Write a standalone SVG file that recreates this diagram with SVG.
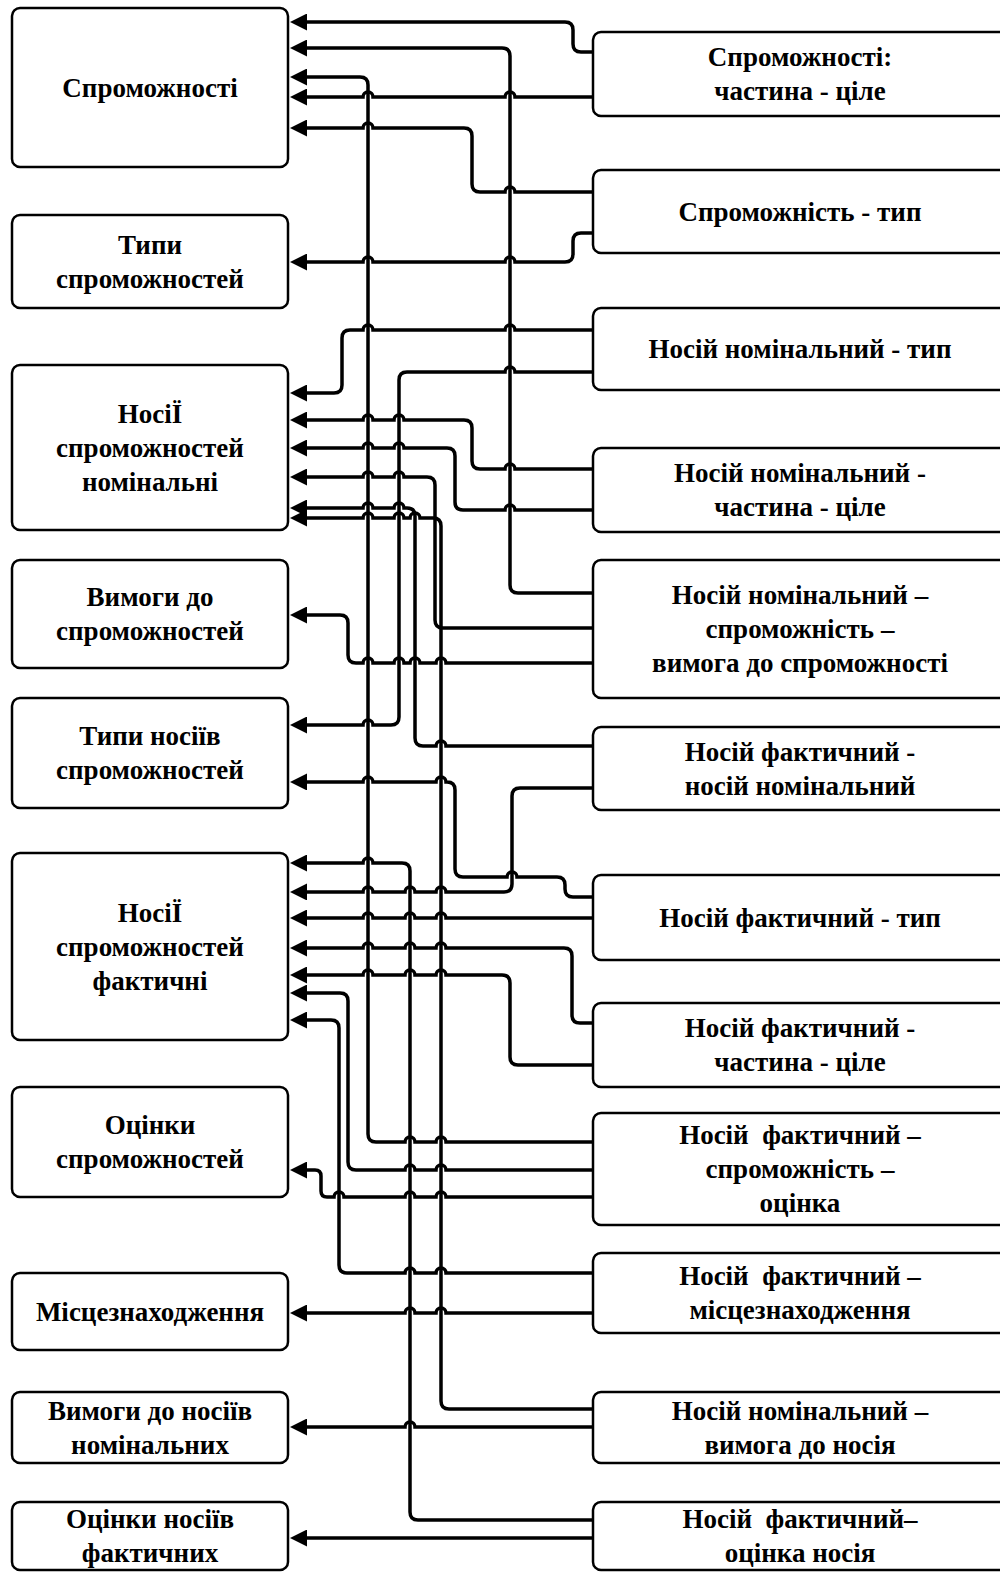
<svg xmlns="http://www.w3.org/2000/svg" width="1000" height="1572" viewBox="0 0 1000 1572">
<style>
.node rect{fill:#fff;stroke:#000;stroke-width:2.5}
text{font-family:"Liberation Serif","Times New Roman",serif;font-weight:bold;font-size:27px;text-anchor:middle;fill:#000}
.edge path{fill:none;stroke:#000;stroke-width:3.5;marker-end:url(#arr)}
</style>
<defs>
<marker id="arr" markerUnits="userSpaceOnUse" viewBox="0 0 17 17" markerWidth="17" markerHeight="17" refX="2" refY="8.5" orient="auto">
<path d="M0,0 L17,8.5 L0,17 z" fill="#000"/>
</marker>
</defs>
<rect width="1000" height="1572" fill="#fff"/>
<g id="L1" class="node"><rect x="12" y="8" width="276" height="159" rx="8"/><text x="150" y="96.5">Спроможності</text></g>
<g id="L2" class="node"><rect x="12" y="215" width="276" height="93" rx="8"/><text><tspan x="150" y="253.5">Типи</tspan><tspan x="150" y="287.5">спроможностей</tspan></text></g>
<g id="L3" class="node"><rect x="12" y="365" width="276" height="165" rx="8"/><text><tspan x="150" y="422.5">НосіЇ</tspan><tspan x="150" y="456.5">спроможностей</tspan><tspan x="150" y="490.5">номінальні</tspan></text></g>
<g id="L4" class="node"><rect x="12" y="560" width="276" height="108" rx="8"/><text><tspan x="150" y="606">Вимоги до</tspan><tspan x="150" y="640">спроможностей</tspan></text></g>
<g id="L5" class="node"><rect x="12" y="698" width="276" height="110" rx="8"/><text><tspan x="150" y="745">Типи носіїв</tspan><tspan x="150" y="779">спроможностей</tspan></text></g>
<g id="L6" class="node"><rect x="12" y="853" width="276" height="187" rx="8"/><text><tspan x="150" y="921.5">НосіЇ</tspan><tspan x="150" y="955.5">спроможностей</tspan><tspan x="150" y="989.5">фактичні</tspan></text></g>
<g id="L7" class="node"><rect x="12" y="1087" width="276" height="110" rx="8"/><text><tspan x="150" y="1134">Оцінки</tspan><tspan x="150" y="1168">спроможностей</tspan></text></g>
<g id="L8" class="node"><rect x="12" y="1273" width="276" height="77" rx="8"/><text x="150" y="1320.5">Місцезнаходження</text></g>
<g id="L9" class="node"><rect x="12" y="1392" width="276" height="71" rx="8"/><text><tspan x="150" y="1419.5">Вимоги до носіїв</tspan><tspan x="150" y="1453.5">номінальних</tspan></text></g>
<g id="L10" class="node"><rect x="12" y="1502" width="276" height="68" rx="8"/><text><tspan x="150" y="1528">Оцінки носіїв</tspan><tspan x="150" y="1562">фактичних</tspan></text></g>

<g id="R1" class="node"><rect x="593" y="32" width="420" height="84" rx="8"/><text><tspan x="800" y="66">Спроможності:</tspan><tspan x="800" y="100">частина - ціле</tspan></text></g>
<g id="R2" class="node"><rect x="593" y="170" width="420" height="83" rx="8"/><text x="800" y="220.5">Спроможність - тип</text></g>
<g id="R3" class="node"><rect x="593" y="308" width="420" height="82" rx="8"/><text x="800" y="358">Носій номінальний - тип</text></g>
<g id="R4" class="node"><rect x="593" y="448" width="420" height="84" rx="8"/><text><tspan x="800" y="482">Носій номінальний -</tspan><tspan x="800" y="516">частина - ціле</tspan></text></g>
<g id="R5" class="node"><rect x="593" y="560" width="420" height="138" rx="8"/><text><tspan x="800" y="604">Носій номінальний –</tspan><tspan x="800" y="638">спроможність –</tspan><tspan x="800" y="672">вимога до спроможності</tspan></text></g>
<g id="R6" class="node"><rect x="593" y="727" width="420" height="83" rx="8"/><text><tspan x="800" y="760.5">Носій фактичний -</tspan><tspan x="800" y="794.5">носій номінальний</tspan></text></g>
<g id="R7" class="node"><rect x="593" y="875" width="420" height="85" rx="8"/><text x="800" y="926.5">Носій фактичний - тип</text></g>
<g id="R8" class="node"><rect x="593" y="1003" width="420" height="84" rx="8"/><text><tspan x="800" y="1037">Носій фактичний -</tspan><tspan x="800" y="1071">частина - ціле</tspan></text></g>
<g id="R9" class="node"><rect x="593" y="1113" width="420" height="112" rx="8"/><text style="white-space:pre"><tspan x="800" y="1144">Носій  фактичний –</tspan><tspan x="800" y="1178">спроможність –</tspan><tspan x="800" y="1212">оцінка</tspan></text></g>
<g id="R10" class="node"><rect x="593" y="1253" width="420" height="80" rx="8"/><text style="white-space:pre"><tspan x="800" y="1285">Носій  фактичний –</tspan><tspan x="800" y="1319">місцезнаходження</tspan></text></g>
<g id="R11" class="node"><rect x="593" y="1392" width="420" height="71" rx="8"/><text><tspan x="800" y="1419.5">Носій номінальний –</tspan><tspan x="800" y="1453.5">вимога до носія</tspan></text></g>
<g id="R12" class="node"><rect x="593" y="1502" width="420" height="68" rx="8"/><text style="white-space:pre"><tspan x="800" y="1528">Носій  фактичний–</tspan><tspan x="800" y="1562">оцінка носія</tspan></text></g>

<g id="connectors" class="edge">
<path d="M593,52 L581,52 Q573,52 573,44 L573,30 Q573,22 565,22 L305,22"/>
<path d="M593,593 L518,593 Q510,593 510,585 L510,56 Q510,48 502,48 L305,48"/>
<path d="M593,1142 L446,1142 A5,5 0 0 0 436,1142 L415,1142 A5,5 0 0 0 405,1142 L376,1142 Q368,1142 368,1134 L368,85 Q368,77 360,77 L305,77"/>
<path d="M593,97 L515,97 A5,5 0 0 0 505,97 L373,97 A5,5 0 0 0 363,97 L305,97"/>
<path d="M593,192 L515,192 A5,5 0 0 0 505,192 L480,192 Q472,192 472,184 L472,136 Q472,128 464,128 L373,128 A5,5 0 0 0 363,128 L305,128"/>
<path d="M593,233 L581,233 Q573,233 573,241 L573,254 Q573,262 565,262 L515,262 A5,5 0 0 0 505,262 L373,262 A5,5 0 0 0 363,262 L305,262"/>
<path d="M593,330 L515,330 A5,5 0 0 0 505,330 L373,330 A5,5 0 0 0 363,330 L350,330 Q342,330 342,338 L342,385 Q342,393 334,393 L305,393"/>
<path d="M593,372 L515,372 A5,5 0 0 0 505,372 L407,372 Q399,372 399,380 L399,717 Q399,725 391,725 L373,725 A5,5 0 0 0 363,725 L305,725"/>
<path d="M593,469 L515,469 A5,5 0 0 0 505,469 L480,469 Q472,469 472,461 L472,428 Q472,420 464,420 L404,420 A5,5 0 0 0 394,420 L373,420 A5,5 0 0 0 363,420 L305,420"/>
<path d="M593,510 L515,510 A5,5 0 0 0 505,510 L463,510 Q455,510 455,502 L455,456 Q455,448 447,448 L404,448 A5,5 0 0 0 394,448 L373,448 A5,5 0 0 0 363,448 L305,448"/>
<path d="M593,628 L443,628 Q435,628 435,620 L435,485 Q435,477 427,477 L404,477 A5,5 0 0 0 394,477 L373,477 A5,5 0 0 0 363,477 L305,477"/>
<path d="M593,663 L446,663 A5,5 0 0 0 436,663 L420,663 A5,5 0 0 0 410,663 L404,663 A5,5 0 0 0 394,663 L373,663 A5,5 0 0 0 363,663 L356,663 Q348,663 348,655 L348,623 Q348,615 340,615 L305,615"/>
<path d="M593,746 L446,746 A5,5 0 0 0 436,746 L423,746 Q415,746 415,738 L415,516 Q415,508 407,508 L404,508 A5,5 0 0 0 394,508 L373,508 A5,5 0 0 0 363,508 L305,508"/>
<path d="M593,1409 L449,1409 Q441,1409 441,1401 L441,526 Q441,518 433,518 L420,518 A5,5 0 0 0 410,518 L404,518 A5,5 0 0 0 394,518 L373,518 A5,5 0 0 0 363,518 L305,518"/>
<path d="M593,897 L573,897 Q565,897 565,889 L565,885 Q565,877 557,877 L517,877 A5,5 0 0 0 507,877 L463,877 Q455,877 455,869 L455,790 Q455,782 447,782 L446,782 A5,5 0 0 0 436,782 L373,782 A5,5 0 0 0 363,782 L305,782"/>
<path d="M593,788 L520,788 Q512,788 512,796 L512,884 Q512,892 504,892 L446,892 A5,5 0 0 0 436,892 L415,892 A5,5 0 0 0 405,892 L373,892 A5,5 0 0 0 363,892 L305,892"/>
<path d="M593,1520 L418,1520 Q410,1520 410,1512 L410,871 Q410,863 402,863 L373,863 A5,5 0 0 0 363,863 L305,863"/>
<path d="M593,918 L446,918 A5,5 0 0 0 436,918 L415,918 A5,5 0 0 0 405,918 L373,918 A5,5 0 0 0 363,918 L305,918"/>
<path d="M593,1023 L580,1023 Q572,1023 572,1015 L572,956 Q572,948 564,948 L446,948 A5,5 0 0 0 436,948 L415,948 A5,5 0 0 0 405,948 L373,948 A5,5 0 0 0 363,948 L305,948"/>
<path d="M593,1065 L518,1065 Q510,1065 510,1057 L510,983 Q510,975 502,975 L446,975 A5,5 0 0 0 436,975 L415,975 A5,5 0 0 0 405,975 L373,975 A5,5 0 0 0 363,975 L305,975"/>
<path d="M593,1170 L446,1170 A5,5 0 0 0 436,1170 L415,1170 A5,5 0 0 0 405,1170 L356,1170 Q348,1170 348,1162 L348,1001 Q348,993 340,993 L305,993"/>
<path d="M593,1273 L446,1273 A5,5 0 0 0 436,1273 L415,1273 A5,5 0 0 0 405,1273 L347,1273 Q339,1273 339,1265 L339,1028 Q339,1020 331,1020 L305,1020"/>
<path d="M593,1197 L446,1197 A5,5 0 0 0 436,1197 L415,1197 A5,5 0 0 0 405,1197 L344,1197 A5,5 0 0 0 334,1197 L327,1197 Q321,1197 321,1191 L321,1176 Q321,1170 315,1170 L305,1170"/>
<path d="M593,1313 L446,1313 A5,5 0 0 0 436,1313 L415,1313 A5,5 0 0 0 405,1313 L305,1313"/>
<path d="M593,1427 L415,1427 A5,5 0 0 0 405,1427 L305,1427"/>
<path d="M593,1538 L305,1538"/>
</g>
</svg>
